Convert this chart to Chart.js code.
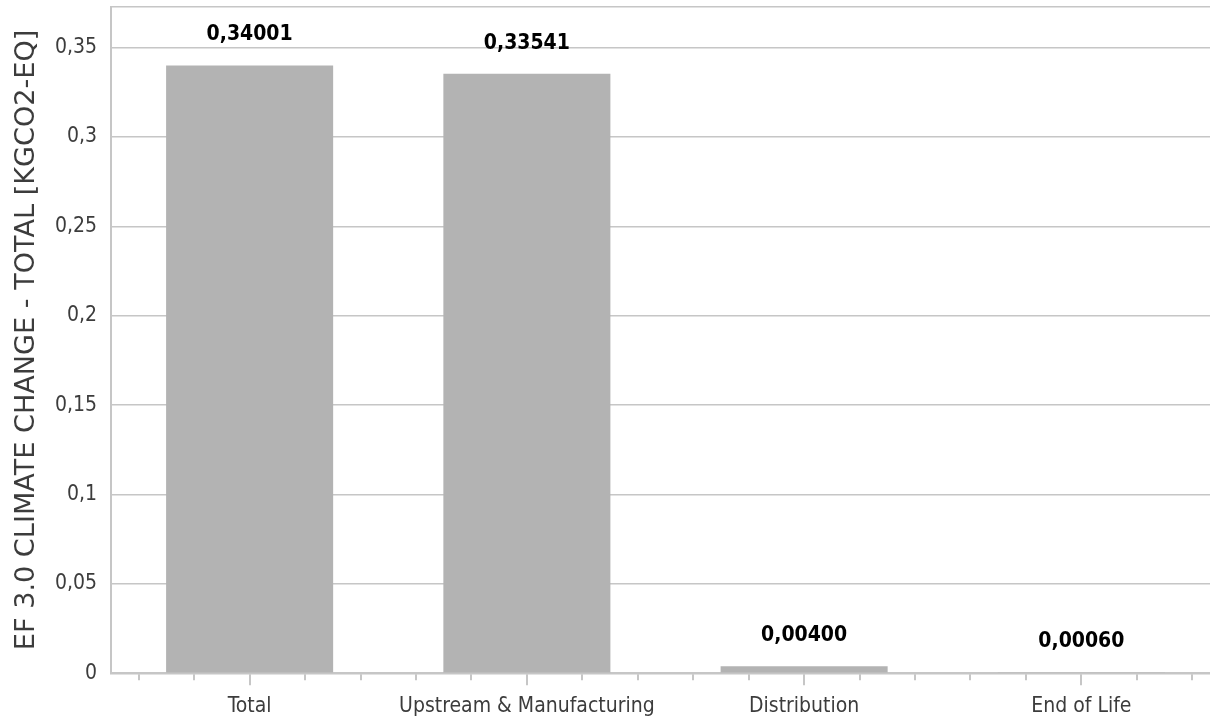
<!DOCTYPE html>
<html>
<head>
<meta charset="utf-8">
<script src="https://cdn.jsdelivr.net/npm/chart.js@4/dist/chart.umd.min.js"></script>
<style>
  html, body { margin: 0; padding: 0; overflow: hidden; background: #ffffff; }
  #wrap { position: relative; width: 1220px; height: 719px; }
</style>
</head>
<body>
<div id="wrap"><canvas id="c"></canvas></div>
<script>
const categories = ['Total', 'Upstream & Manufacturing', 'Distribution', 'End of Life'];
const values = [0.34001, 0.33541, 0.00400, 0.00060];
const yTicks = [0, 0.05, 0.1, 0.15, 0.2, 0.25, 0.3, 0.35];
const yMax = 0.373;
const yTitle = 'EF 3.0 CLIMATE CHANGE - TOTAL [KGCO2-EQ]';

const FONT = "'DejaVu Sans Condensed', 'DejaVu Sans', sans-serif";
const TFONT = "'DejaVu Sans', sans-serif";
const GRID = '#c6c6c6';
const TEXT = '#3c3c3c';

const fmt = v => String(v).replace('.', ',');

const valueLabels = {
  id: 'valueLabels',
  afterDatasetsDraw(chart) {
    const ctx = chart.ctx;
    const meta = chart.getDatasetMeta(0);
    ctx.save();
    ctx.font = "bold 21px " + FONT;
    ctx.fillStyle = '#000000';
    ctx.textAlign = 'center';
    ctx.textBaseline = 'alphabetic';
    meta.data.forEach((bar, i) => {
      ctx.fillText(values[i].toFixed(5).replace('.', ','), bar.x, bar.y - 25);
    });
    ctx.restore();
  }
};

const minorTicks = {
  id: 'minorTicks',
  afterDraw(chart) {
    const x = chart.scales.x;
    const ctx = chart.ctx;
    const y0 = x.top + 1;
    ctx.save();
    ctx.strokeStyle = GRID;
    ctx.lineWidth = 2;
    for (let i = 0; i < categories.length; i++) {
      for (let k = -2; k <= 2; k++) {
        const px = Math.round(x.getPixelForValue(i + k * 0.2));
        if (px <= chart.chartArea.left + 2) continue;
        const len = k === 0 ? 11 : 6;
        ctx.beginPath();
        ctx.moveTo(px, y0);
        ctx.lineTo(px, y0 + len);
        ctx.stroke();
      }
    }
    ctx.restore();
  }
};

new Chart(document.getElementById('c'), {
  type: 'bar',
  data: {
    labels: categories,
    datasets: [{
      data: values,
      backgroundColor: '#b3b3b3',
      borderWidth: 0,
      barPercentage: 0.6025,
      categoryPercentage: 1
    }]
  },
  options: {
    responsive: true,
    maintainAspectRatio: false,
    animation: false,
    layout: { padding: { top: 6.5, left: 0, right: 0, bottom: 0 } },
    plugins: { legend: { display: false }, tooltip: { enabled: false } },
    scales: {
      x: {
        grid: { display: false, drawTicks: false },
        border: { display: true, color: GRID, width: 2 },
        ticks: { color: TEXT, font: { family: FONT, size: 21 }, padding: 21, maxRotation: 0, autoSkip: false },
        afterFit(s) { s.height = 45.7; s.paddingLeft = 0; s.paddingRight = 0; }
      },
      y: {
        min: 0,
        max: yMax,
        grid: { color: GRID, lineWidth: 1.5, drawTicks: false },
        border: { display: true, color: GRID, width: 2 },
        ticks: {
          color: TEXT,
          font: { family: FONT, size: 21 },
          padding: 14,
          callback: (v) => (yTicks.includes(v) ? fmt(v) : '')
        },
        afterBuildTicks(s) { s.ticks = yTicks.concat([yMax]).map(v => ({ value: v })); },
        afterFit(s) { s.width = 111; s.paddingTop = 0; s.paddingBottom = 0; },
        title: {
          display: true,
          text: yTitle,
          color: TEXT,
          font: { family: TFONT, size: 27.1, weight: 'normal' },
          padding: { top: 10.4, bottom: 0 }
        }
      }
    }
  },
  plugins: [valueLabels, minorTicks]
});
</script>
</body>
</html>
